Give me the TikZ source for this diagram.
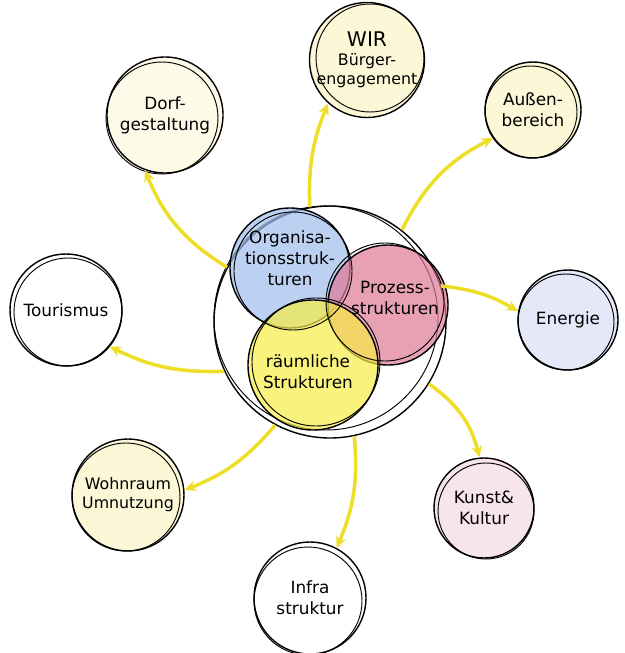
\documentclass[tikz,border=0pt]{standalone}
\usepackage{fontspec}
\setmainfont{DejaVu Sans}
\usetikzlibrary{arrows.meta}
\definecolor{stiftgelb}{RGB}{238,222,40}
\definecolor{hellgelb}{RGB}{252,248,215}
\definecolor{hellblau}{RGB}{228,232,248}
\definecolor{hellrosa}{RGB}{248,228,236}
\definecolor{orgablau}{RGB}{160,190,236}
\definecolor{prozessrot}{RGB}{222,120,150}
\definecolor{raumgelb}{RGB}{246,236,70}
\tikzset{
  thema/.style={circle,draw=black,line width=1.2pt,minimum size=#1*0.3mm,inner sep=0pt,align=center,font=\Large},
  eng/.style={font=\fontsize{13.5}{16}\selectfont},
  kern/.style={circle,draw=black,line width=1.2pt,minimum size=#1*0.3mm,inner sep=0pt,fill opacity=0.7},
  pfeil/.style={-{Stealth[length=10pt,width=9pt]},stiftgelb,line width=3pt}
}
\begin{document}
\begin{tikzpicture}[x=0.3mm,y=-0.3mm]
  \useasboundingbox (0,0) rectangle (624,653);
  % aeussere Themen
  \node[thema=116,fill=hellgelb!60] (dorf) at (165,115) {Dorf-\\gestaltung};
  \node[thema=112,fill=hellgelb,eng] (wir) at (367,60) {\LARGE WIR\\Bürger-\\engagement};
  \node[thema=96,fill=hellgelb] (aussen) at (533,110) {Außen-\\bereich};
  \node[thema=100,fill=hellblau] (energie) at (568,320) {Energie};
  \node[thema=100,fill=hellrosa] (kunst) at (484,508) {Kunst\&\\Kultur};
  \node[thema=112,fill=white] (infra) at (310,598) {Infra\\struktur};
  \node[thema=112,fill=hellgelb,eng] (wohnraum) at (128,495) {Wohnraum\\Umnutzung};
  \node[thema=112,fill=white] (tourismus) at (66,310) {Tourismus};
  % Skizzenlinien
  \foreach \x/\y/\r in {162/118/56,370/58/54,531/112/46,566/322/48,
      486/511/48,308/601/54,126/497/54,68/312/54}
    \draw[line width=0.8pt] (\x,\y) circle[radius=\r];
  % Kern
  \node[circle,draw=black,line width=1.2pt,minimum size=232*0.3mm] (gross) at (330,322) {};
  \draw[line width=0.8pt] (326,318) circle[radius=112];
  \node[kern=120,fill=orgablau] (orga) at (290,268) {};
  \node[kern=120,fill=prozessrot] (prozess) at (388,305) {};
  \node[kern=130,fill=raumgelb] (raum) at (313,365) {};
  \draw[line width=0.8pt] (293,271) circle[radius=59] (385,302) circle[radius=59] (316,362) circle[radius=64];
  \node[font=\Large,align=center] at (290,258) {Organisa-\\tionsstruk-\\turen};
  \node[font=\Large,align=center] at (395,298) {Prozess-\\strukturen};
  \node[font=\Large,align=center] at (308,372) {räumliche\\Strukturen};
  % Pfeile
  \draw[pfeil] (gross.152) to[bend left=18] (dorf.250);
  \draw[pfeil] (gross.100) to[bend left=12] (wir.228);
  \draw[pfeil] (gross.52) to[bend left=18] (aussen.215);
  \draw[pfeil] (gross.18) to[bend left=12] (energie.170);
  \draw[pfeil] (gross.-32) to[bend left=20] (kunst.95);
  \draw[pfeil] (gross.-78) to[bend left=14] (infra.62);
  \draw[pfeil] (gross.-118) to[bend left=14] (wohnraum.5);
  \draw[pfeil] (gross.-155) to[bend left=14] (tourismus.-40);
\end{tikzpicture}
\end{document}
